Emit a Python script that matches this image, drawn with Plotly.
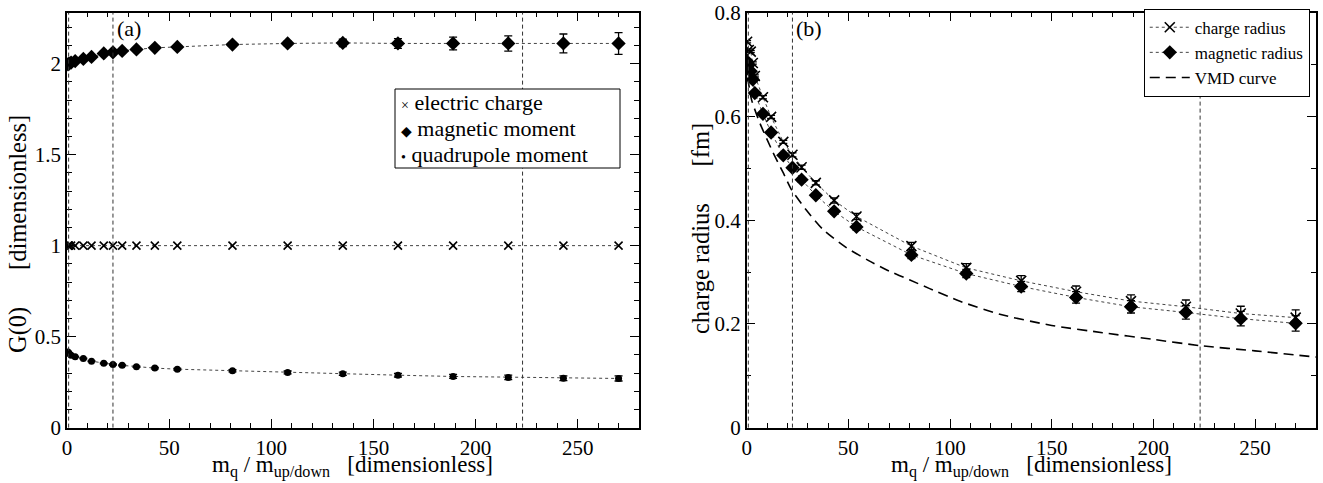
import plotly.graph_objects as go

# ---------------- data ----------------
# panel (a): G(0) vs quark mass ratio
mass_a = [0.5, 1, 2, 4, 8, 12, 18, 22.5, 27, 34, 43, 54, 81, 108, 135, 162, 189, 216, 243, 270]
charge_g = [1.0] * 20
magnetic_g = [1.996, 2.000, 2.006, 2.014, 2.026, 2.037, 2.056, 2.062, 2.070, 2.078, 2.087,
              2.092, 2.105, 2.111, 2.114, 2.111, 2.111, 2.111, 2.111, 2.111]
magnetic_err = [0.002, 0.002, 0.002, 0.002, 0.002, 0.003, 0.003, 0.003, 0.004, 0.004, 0.005,
                0.006, 0.008, 0.012, 0.02, 0.027, 0.035, 0.042, 0.052, 0.06]
quad_g = [0.416, 0.408, 0.398, 0.389, 0.380, 0.365, 0.353, 0.347, 0.342, 0.334, 0.327,
          0.321, 0.312, 0.303, 0.296, 0.288, 0.281, 0.276, 0.271, 0.270]
quad_err = [0.002, 0.002, 0.002, 0.002, 0.002, 0.002, 0.003, 0.003, 0.003, 0.003, 0.004,
            0.005, 0.006, 0.008, 0.009, 0.01, 0.011, 0.012, 0.013, 0.014]

# panel (b): radii vs quark mass ratio
mass_b = [0.2, 1, 2, 3, 4, 8, 12, 18, 22.5, 27, 34, 43, 54, 81, 108, 135, 162, 189, 216, 243, 270]
charge_r = [0.744, 0.728, 0.725, 0.703, 0.678, 0.637, 0.599, 0.551, 0.526, 0.502, 0.472,
            0.438, 0.407, 0.350, 0.308, 0.283, 0.262, 0.244, 0.233, 0.220, 0.212]
magnetic_r = [0.706, 0.699, 0.687, 0.671, 0.645, 0.605, 0.569, 0.525, 0.501, 0.478, 0.448,
              0.417, 0.387, 0.333, 0.297, 0.272, 0.251, 0.233, 0.222, 0.210, 0.201]
radius_err = [0.002, 0.002, 0.002, 0.002, 0.002, 0.003, 0.003, 0.003, 0.004, 0.004, 0.004,
              0.005, 0.006, 0.007, 0.008, 0.010, 0.011, 0.012, 0.013, 0.014, 0.015]

# VMD curve
vmd_x = [0.5, 2.4, 6.5, 13, 18, 22, 29, 37.5, 49, 60, 70, 80, 90, 104.6, 125, 150, 175,
         200, 223, 250, 280]
vmd_y = [0.675, 0.632, 0.587, 0.530, 0.491, 0.459, 0.421, 0.382, 0.347, 0.322, 0.302,
         0.285, 0.268, 0.244, 0.218, 0.197, 0.183, 0.170, 0.158, 0.148, 0.136]

ref_lines = [0.8, 22.5, 223]

x_ticks = [0, 50, 100, 150, 200, 250]
ya_ticks = [0, 0.5, 1, 1.5, 2]
yb_ticks = [0, 0.2, 0.4, 0.6, 0.8]

legend_a_labels = ["electric charge", "magnetic moment", "quadrupole moment"]
legend_a_symbols = ["×", "◆", "•"]

# ---------------- figure ----------------
W, H = 1323, 483
FONT = "Liberation Serif, Times New Roman, Times, DejaVu Serif, serif"
NB = "\u00a0"
TICK_SIZE = 21
TITLE_SIZE = 23
YTITLE_SIZE = 24.5
LEG_A_SIZE = 22
LEG_B_SIZE = 17
dot_line = dict(color="#444444", width=1, dash="dot")
err_style = dict(type="data", thickness=1.3, width=4, color="black")

fig = go.Figure()

# panel (a)
fig.add_trace(go.Scatter(x=mass_a, y=charge_g, mode="lines+markers", line=dot_line, name="electric charge",
                         marker=dict(symbol="x-thin", size=8, line=dict(width=1.6, color="black"), color="black"),
                         xaxis="x", yaxis="y", showlegend=False))
fig.add_trace(go.Scatter(x=mass_a, y=magnetic_g, mode="lines+markers", line=dot_line, name="magnetic moment",
                         error_y=dict(array=magnetic_err, **err_style),
                         marker=dict(symbol="diamond", size=11, color="black"),
                         xaxis="x", yaxis="y", showlegend=False))
fig.add_trace(go.Scatter(x=mass_a, y=quad_g, mode="lines+markers", line=dot_line, name="quadrupole moment",
                         error_y=dict(array=quad_err, **err_style),
                         marker=dict(symbol="circle", size=7, color="black"),
                         xaxis="x", yaxis="y", showlegend=False))

# panel (b)
fig.add_trace(go.Scatter(x=mass_b, y=charge_r, mode="lines+markers", line=dot_line, name="charge radius",
                         error_y=dict(array=radius_err, **err_style),
                         marker=dict(symbol="x-thin", size=10, line=dict(width=1.6, color="black"), color="black"),
                         xaxis="x2", yaxis="y2", legend="legend2"))
fig.add_trace(go.Scatter(x=mass_b, y=magnetic_r, mode="lines+markers", line=dot_line, name="magnetic radius",
                         error_y=dict(array=radius_err, **err_style),
                         marker=dict(symbol="diamond", size=11, color="black"),
                         xaxis="x2", yaxis="y2", legend="legend2"))
fig.add_trace(go.Scatter(x=vmd_x, y=vmd_y, mode="lines", name="VMD curve",
                         line=dict(color="black", width=1.6, dash="10px,6px", shape="spline", smoothing=0.6),
                         xaxis="x2", yaxis="y2", legend="legend2"))

shapes = []
for xa in ("x", "x2"):
    for xv in ref_lines:
        shapes.append(dict(type="line", xref=xa, yref=("y" if xa == "x" else "y2") + " domain",
                           x0=xv, x1=xv, y0=0, y1=1,
                           line=dict(color="#333333", width=1, dash="4px,3px")))

# hand-built legend box for panel (a) (pixel layout of the original)
LA_X0, LA_X1, LA_Y0, LA_Y1 = 395, 620, 89, 168
shapes.append(dict(type="rect", xref="paper", yref="paper",
                   x0=LA_X0 / W, x1=LA_X1 / W, y0=1 - LA_Y1 / H, y1=1 - LA_Y0 / H,
                   line=dict(color="black", width=1), fillcolor="white", layer="above"))

annotations = []
row_h = (LA_Y1 - LA_Y0) / 3
for i, (sym, lab) in enumerate(zip(legend_a_symbols, legend_a_labels)):
    ypix = LA_Y0 + row_h * (i + 0.5)
    annotations.append(dict(
        text=f"<span style='font-size:14px'>{sym}</span> {lab}",
        x=(LA_X0 + 4) / W, y=1 - ypix / H, xref="paper", yref="paper",
        xanchor="left", yanchor="middle", showarrow=False,
        font=dict(family=FONT, size=LEG_A_SIZE, color="black")))

axis_common = dict(showline=True, linecolor="black", linewidth=1.5, mirror="ticks",
                   ticks="inside", ticklen=9, tickwidth=1.2, tickcolor="black",
                   showgrid=False, zeroline=False, automargin=False,
                   tickfont=dict(family=FONT, size=TICK_SIZE, color="black"))

xtitle = f"m<sub>q</sub> / m<sub>up/down</sub>{NB}{NB}{NB}[dimensionless]"
xa_dom = [67 / W, 639 / W]
xb_dom = [746.7 / W, 1316 / W]
y_dom = [1 - 427.6 / H, 1 - 12.7 / H]
GAP = NB * 6

annotations += [
    dict(text="(a)", x=22.5, y=1, xref="x", yref="y domain", xanchor="left", yanchor="top",
         xshift=2, yshift=-1, showarrow=False, font=dict(family=FONT, size=LEG_A_SIZE)),
    dict(text="(b)", x=22.5, y=1, xref="x2", yref="y2 domain", xanchor="left", yanchor="top",
         xshift=2, yshift=-1, showarrow=False, font=dict(family=FONT, size=LEG_A_SIZE)),
    dict(text=xtitle, x=sum(xa_dom) / 2, y=0, xref="paper", yref="paper",
         xanchor="center", yanchor="bottom", yshift=0, showarrow=False,
         font=dict(family=FONT, size=TITLE_SIZE)),
    dict(text=xtitle, x=sum(xb_dom) / 2, y=0, xref="paper", yref="paper",
         xanchor="center", yanchor="bottom", yshift=0, showarrow=False,
         font=dict(family=FONT, size=TITLE_SIZE)),
    dict(text=f"G(0){GAP}[dimensionless]", x=18 / W, y=1 - 234 / H, xref="paper", yref="paper",
         xanchor="center", yanchor="middle", textangle=-90, showarrow=False,
         font=dict(family=FONT, size=YTITLE_SIZE)),
    dict(text=f"charge radius{GAP}[fm]", x=700 / W, y=1 - 229 / H, xref="paper", yref="paper",
         xanchor="center", yanchor="middle", textangle=-90, showarrow=False,
         font=dict(family=FONT, size=YTITLE_SIZE)),
]

fig.update_layout(
    template="none",
    width=W, height=H,
    margin=dict(l=0, r=0, t=0, b=0, autoexpand=False),
    paper_bgcolor="white", plot_bgcolor="white",
    font=dict(family=FONT, color="black"),
    shapes=shapes,
    annotations=annotations,
    xaxis=dict(domain=xa_dom, range=[0, 280], tickvals=x_ticks, anchor="y",
               minor=dict(ticks="inside", dtick=10, ticklen=5, tickcolor="black"), **axis_common),
    yaxis=dict(domain=y_dom, range=[0, 2.28], tickvals=ya_ticks, anchor="x",
               ticktext=["0", "0.5", "1", "1.5", "2"],
               minor=dict(ticks="inside", dtick=0.1, ticklen=5, tickcolor="black"),
               **axis_common),
    xaxis2=dict(domain=xb_dom, range=[0, 280], tickvals=x_ticks, anchor="y2",
                minor=dict(ticks="inside", dtick=10, ticklen=5, tickcolor="black"), **axis_common),
    yaxis2=dict(domain=y_dom, range=[0, 0.8], tickvals=yb_ticks, anchor="x2",
                ticktext=["0", "0.2", "0.4", "0.6", "0.8"],
                minor=dict(ticks="inside", dtick=0.1, ticklen=5, tickcolor="black"),
                **axis_common),
    legend2=dict(x=0.990, y=0.982, xanchor="right", yanchor="top",
                 bgcolor="white", bordercolor="black", borderwidth=1,
                 font=dict(family=FONT, size=LEG_B_SIZE), itemwidth=40),
)

fig.write_html("out.html", config={"displayModeBar": False},
               post_script="document.body.style.margin='0px';")
